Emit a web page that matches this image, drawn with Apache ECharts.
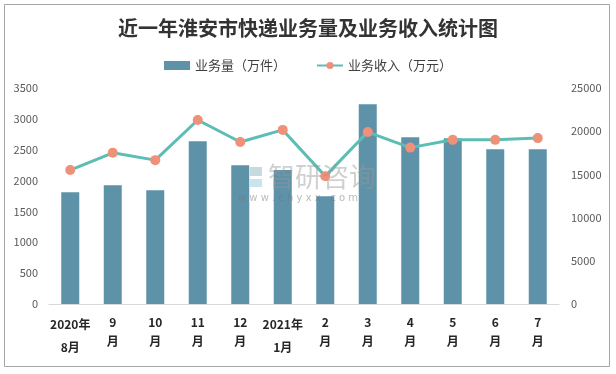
<!DOCTYPE html>
<html>
<head>
<meta charset="utf-8">
<script src="https://cdn.jsdelivr.net/npm/echarts@6/dist/echarts.min.js"></script>
<style>
html,body{margin:0;padding:0;background:#fff;}
#chart{width:616px;height:374px;}
</style>
</head>
<body>
<div id="chart"></div>
<script>
var categories = ['2020年\n8月','9\n月','10\n月','11\n月','12\n月','2021年\n1月','2\n月','3\n月','4\n月','5\n月','6\n月','7\n月'];
var volume = [1810, 1923, 1842, 2636, 2247, 2171, 1745, 3235, 2701, 2685, 2506, 2506];
var revenue = [15500, 17500, 16650, 21300, 18750, 20150, 14800, 19900, 18100, 19000, 19000, 19200];
var leftTicks = {min: 0, max: 3500, interval: 500};
var rightTicks = {min: 0, max: 25000, interval: 5000};

var chart = echarts.init(document.getElementById('chart'));
var cjk = '"Noto Sans CJK SC", "Microsoft YaHei", sans-serif';
var plain = function (v) { return String(v); };
chart.setOption({
  backgroundColor: '#fff',
  textStyle: {fontFamily: cjk},
  title: {
    text: '近一年淮安市快递业务量及业务收入统计图',
    left: 'center', top: 13,
    textStyle: {fontSize: 20, fontWeight: 'bold', color: '#333', fontFamily: cjk}
  },
  legend: {
    top: 54, left: 'center',
    itemWidth: 26, itemHeight: 9, itemGap: 30,
    textStyle: {fontSize: 13, color: '#404040', fontFamily: cjk},
    data: [
      {name: '业务量（万件）', icon: 'rect'},
      {name: '业务收入（万元）'}
    ]
  },
  grid: {left: 49, right: 57, top: 88, bottom: 70},
  xAxis: {
    type: 'category',
    data: categories,
    axisLine: {lineStyle: {color: '#D9D9D9'}},
    axisTick: {show: false},
    axisLabel: {
      interval: 0, margin: 9,
      formatter: function (v) {
        var parts = v.split('\n');
        var s = parts[0].indexOf('年') >= 0 ? 'a' : 'b';
        return '{' + s + '|' + parts[0] + '}\n{' + s + '|' + parts[1] + '}';
      },
      rich: {
        a: {fontSize: 12, fontWeight: 'bold', color: '#262626', lineHeight: 23, fontFamily: cjk},
        b: {fontSize: 12, fontWeight: 'bold', color: '#262626', lineHeight: 19, fontFamily: cjk}
      }
    }
  },
  yAxis: [
    {
      type: 'value', min: leftTicks.min, max: leftTicks.max, interval: leftTicks.interval,
      axisLine: {show: false}, axisTick: {show: false}, splitLine: {show: false},
      axisLabel: {fontSize: 11, color: '#595959', margin: 11, formatter: plain}
    },
    {
      type: 'value', min: rightTicks.min, max: rightTicks.max, interval: rightTicks.interval,
      axisLine: {show: false}, axisTick: {show: false}, splitLine: {show: false},
      axisLabel: {fontSize: 11, color: '#595959', margin: 12, formatter: plain}
    }
  ],
  series: [
    {
      name: '业务量（万件）', type: 'bar', yAxisIndex: 0,
      data: volume, barWidth: 18,
      itemStyle: {color: '#5E92A9'}
    },
    {
      name: '业务收入（万元）', type: 'line', yAxisIndex: 1,
      data: revenue, symbol: 'circle', symbolSize: 10,
      lineStyle: {color: '#5CBDB5', width: 3},
      itemStyle: {color: '#EF9079'},
      z: 3
    }
  ],
  graphic: [
    {type: 'rect', shape: {x: 4.5, y: 4.5, width: 605, height: 362}, style: {fill: 'none', stroke: '#A6A6A6', lineWidth: 1}, z: 100, silent: true},
    {type: 'rect', z: 60, silent: true, shape: {x: 239, y: 167, width: 9, height: 20}, style: {fill: 'rgba(94,146,169,0.45)'}},
    {type: 'rect', z: 60, silent: true, shape: {x: 250, y: 167, width: 12, height: 9}, style: {fill: 'rgba(94,146,169,0.35)'}},
    {type: 'rect', z: 60, silent: true, shape: {x: 250, y: 179, width: 12, height: 8}, style: {fill: 'rgba(140,190,220,0.45)'}},
    {type: 'text', z: 60, silent: true, x: 268, y: 163, style: {text: '智研咨询', fontSize: 27, fill: 'rgba(150,150,150,0.45)', fontFamily: cjk}},
    {type: 'text', z: 60, silent: true, x: 238, y: 193, style: {text: 'w w w . c h y x x . c o m', fontSize: 10, fill: 'rgba(120,120,120,0.5)', fontFamily: 'DejaVu Sans'}}
  ]
});
</script>
</body>
</html>
